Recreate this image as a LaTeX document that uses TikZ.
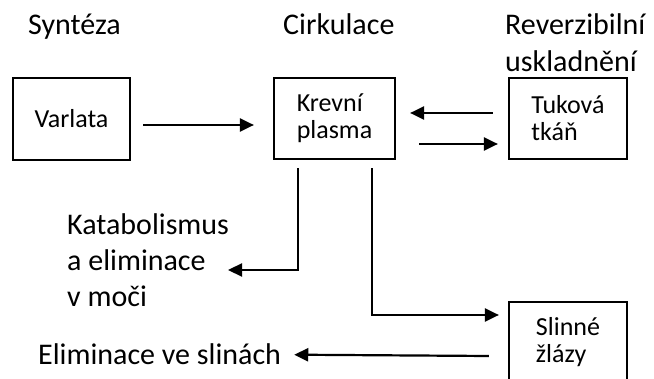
\documentclass[tikz,border=0pt]{standalone}
\usepackage{fontspec}
\setmainfont{Carlito}
\usetikzlibrary{arrows.meta}

\begin{document}
\begin{tikzpicture}[
    x=1pt, y=-1pt,
    block/.style={rectangle, draw, line width=2.2pt, align=left, inner sep=0pt, font=\fontsize{26}{27}\selectfont},
    header/.style={inner sep=0pt, align=left, font=\fontsize{30}{37}\selectfont},
    note/.style={inner sep=0pt, align=left, font=\fontsize{30}{36}\selectfont},
    arrow/.style={line width=2.2pt, -{Triangle[length=14pt,width=13pt]}}
  ]
  \useasboundingbox (0,0) rectangle (654,379);

  % column headings
  \node[header, anchor=base west] (synteza) at (28,35) {Syntéza};
  \node[header, anchor=base west] (cirkulace) at (283,35) {Cirkulace};
  \node[header, anchor=base west] (zasoba) at (505,72) {Reverzibilní\\uskladnění};

  % boxes
  \node[block, minimum width=117, minimum height=82] (varlata) at (71.5,119) {Varlata};
  \node[block, minimum width=121, minimum height=81] (krev) at (334.5,118.5) {Krevní\\plasma};
  \node[block, minimum width=118, minimum height=81] (tuk) at (568,118.5) {Tuková\\tkáň};
  \node[block, minimum width=118, minimum height=80] (sliny) at (568,342) {Slinné\\žlázy};

  % outputs
  \node[note, anchor=base west] (katab) at (67,307) {Katabolismus\\a eliminace\\v moči};
  \node[note, anchor=base west] (elim) at (38,365) {Eliminace ve slinách};
  \coordinate (katabin) at (228,270);

  \draw[arrow] ([shift={(12,6)}]varlata.east) -- ([shift={(-19,6.5)}]krev.west);
  \draw[arrow] ([shift={(-15,-5.5)}]tuk.west) -- ([shift={(14,-5.5)}]krev.east);
  \draw[arrow] ([shift={(23,25.5)}]krev.east) -- ([shift={(-10,25.5)}]tuk.west);
  \draw[arrow] ([shift={(-36.5,8)}]krev.south) |- (katabin);
  \draw[arrow] ([shift={(37.5,8)}]krev.south) |- ([shift={(-9,-27)}]sliny.west);
  \draw[arrow] ([shift={(-19,14)}]sliny.west) -- ([xshift=13]elim.east);
\end{tikzpicture}
\end{document}
